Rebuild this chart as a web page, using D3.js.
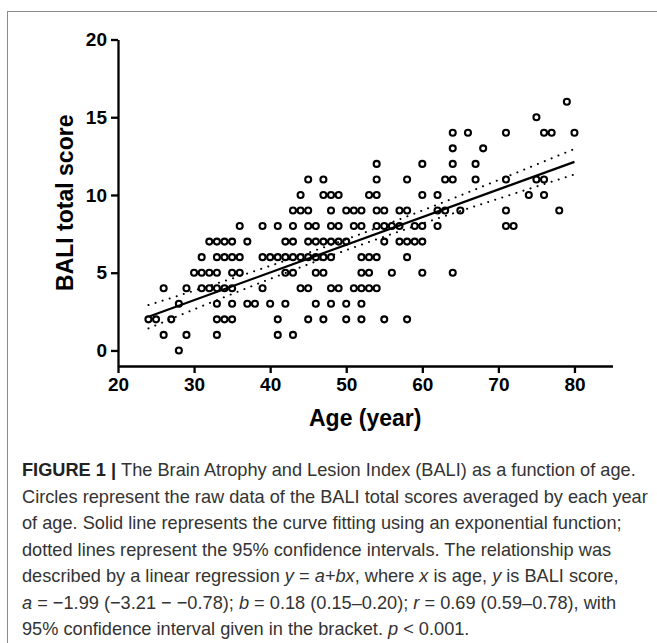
<!DOCTYPE html>
<html>
  <head>
    <meta charset="utf-8" />
    <style>
      body { margin: 0; background: #fff; }
      svg { display: block; }
    </style>
  </head>
  <body>

<svg id="graph"></svg>

<script src="https://d3js.org/d3.v7.min.js"></script>
<script>
  const WIDTH = 657;
  const HEIGHT = 643;

  // BALI score rows: [score, ages that have that averaged score]
  const SCORE_ROWS = [
    [0, [28]],
    [1, [26, 29, 33, 41, 43]],
    [2, [24, 25, 27, 33, 34, 35, 41, 45, 47, 50, 52, 55, 58]],
    [3, [28, 33, 35, 37, 38, 40, 42, 46, 48, 50, 52]],
    [4, [26, 29, 31, 32, 33, 34, 35, 39, 44, 45, 48, 49, 51, 52, 53, 54]],
    [5, [30, 31, 32, 33, 35, 36, 42, 43, 46, 47, 52, 53, 56, 60, 64]],
    [6, [31, 33, 34, 35, 36, 39, 40, 41, 42, 43, 44, 45, 46, 47, 48, 52, 53, 54, 58]],
    [7, [32, 33, 34, 35, 37, 42, 43, 45, 46, 47, 48, 49, 50, 55, 57, 58, 59, 60]],
    [8, [36, 39, 41, 43, 45, 46, 48, 49, 51, 52, 54, 55, 56, 57, 59, 60, 62, 71, 72]],
    [9, [43, 44, 45, 48, 50, 51, 52, 54, 55, 57, 58, 62, 63, 65, 71, 78]],
    [10, [44, 47, 48, 49, 53, 54, 60, 62, 74, 76]],
    [11, [45, 47, 54, 58, 63, 64, 67, 71, 75, 76]],
    [12, [54, 60, 64, 67]],
    [13, [64, 68]],
    [14, [64, 66, 71, 76, 77, 80]],
    [15, [75]],
    [16, [79]]
  ];

  // fitted line and 95% CI
  const FIT_AGES = [24, 80];
  const FIT_SCORES = [2.17, 12.13];
  const CI_AGES = [24, 30, 40, 50, 60, 70, 80];
  const CI_UPPER = [2.92, 3.84, 5.44, 7.15, 9.0, 10.96, 12.96];
  const CI_LOWER = [1.42, 2.64, 4.6, 6.45, 8.16, 9.76, 11.32];

  const X_TICKS = [20, 30, 40, 50, 60, 70, 80];
  const Y_TICKS = [0, 5, 10, 15, 20];

  const CAPTION = [
    [['FIGURE 1 | ', 'b'], ['The Brain Atrophy and Lesion Index (BALI) as a function of age.', '']],
    [['Circles represent the raw data of the BALI total scores averaged by each year', '']],
    [['of age. Solid line represents the curve fitting using an exponential function;', '']],
    [['dotted lines represent the 95% confidence intervals. The relationship was', '']],
    [['described by a linear regression ', ''], ['y', 'i'], [' = ', ''], ['a+bx', 'i'], [', where ', ''], ['x', 'i'], [' is age, ', ''], ['y', 'i'], [' is BALI score,', '']],
    [['a', 'i'], [' = \u22121.99 (\u22123.21 \u2212 \u22120.78); ', ''], ['b', 'i'], [' = 0.18 (0.15\u20130.20); ', ''], ['r', 'i'], [' = 0.69 (0.59\u20130.78), with', '']],
    [['95% confidence interval given in the bracket. ', ''], ['p', 'i'], [' < 0.001.', '']]
  ];

  const FONT = '"Liberation Sans", Arial, sans-serif';

  const svg = d3.select('#graph')
    .attr('width', WIDTH)
    .attr('height', HEIGHT)
    .style('font-family', FONT);

  // figure frame
  svg.append('rect')
    .attr('x', 7.5).attr('y', 11.5)
    .attr('width', 700).attr('height', 700)
    .attr('fill', 'none')
    .attr('stroke', '#8a8a8a')
    .attr('stroke-width', 1);

  const x = d3.scaleLinear().domain([20, 85]).range([118, 612.5]);
  const y = d3.scaleLinear().domain([-1, 20]).range([366, 39.5]);

  const points = SCORE_ROWS.flatMap(([s, ages]) => ages.map(a => ({ age: a, score: s })));

  // axes
  const xAxis = svg.append('g')
    .attr('transform', `translate(0,${y(-1)})`)
    .call(d3.axisBottom(x).tickValues(X_TICKS).tickSize(7).tickSizeOuter(0).tickPadding(5));
  const yAxis = svg.append('g')
    .attr('transform', `translate(${x(20)},0)`)
    .call(d3.axisLeft(y).tickValues(Y_TICKS).tickSize(7).tickSizeOuter(0).tickPadding(4));

  [xAxis, yAxis].forEach(g => {
    g.select('.domain').attr('stroke', '#000').attr('stroke-width', 2.3);
    g.selectAll('.tick line').attr('stroke', '#000').attr('stroke-width', 2.3);
    g.selectAll('.tick text')
      .attr('fill', '#000')
      .style('font-family', FONT)
      .style('font-size', '19px')
      .style('font-weight', 'bold');
  });

  svg.append('text')
    .attr('x', (x(20) + x(85)) / 2)
    .attr('y', 426)
    .attr('text-anchor', 'middle')
    .style('font-size', '23px')
    .style('font-weight', 'bold')
    .text('Age (year)');

  svg.append('text')
    .attr('transform', `translate(73,${(y(-1) + y(20)) / 2}) rotate(-90)`)
    .attr('text-anchor', 'middle')
    .style('font-size', '23px')
    .style('font-weight', 'bold')
    .text('BALI total score');

  // data circles
  svg.append('g')
    .selectAll('circle')
    .data(points)
    .enter()
    .append('circle')
    .attr('cx', d => x(d.age))
    .attr('cy', d => y(d.score))
    .attr('r', 3)
    .attr('fill', 'none')
    .attr('stroke', '#000')
    .attr('stroke-width', 2.1);

  // regression + CI
  const ciLine = d3.line()
    .x(d => x(d[0]))
    .y(d => y(d[1]))
    .curve(d3.curveMonotoneX);

  [CI_UPPER, CI_LOWER].forEach(vals => {
    svg.append('path')
      .attr('d', ciLine(CI_AGES.map((a, i) => [a, vals[i]])))
      .attr('fill', 'none')
      .attr('stroke', '#000')
      .attr('stroke-width', 2)
      .attr('stroke-linecap', 'round')
      .attr('stroke-dasharray', '0.1,7.3');
  });

  svg.append('path')
    .attr('d', d3.line().x(d => x(d[0])).y(d => y(d[1]))(FIT_AGES.map((a, i) => [a, FIT_SCORES[i]])))
    .attr('fill', 'none')
    .attr('stroke', '#000')
    .attr('stroke-width', 2.2);

  // caption
  const cap = svg.append('text')
    .attr('fill', '#333')
    .style('font-size', '18.2px');

  CAPTION.forEach((line, i) => {
    line.forEach(([str, style], j) => {
      const t = cap.append('tspan').text(str);
      if (j === 0) t.attr('x', 22).attr('y', 476 + i * 26.5);
      if (style === 'b') t.style('font-weight', 'bold').attr('fill', '#222');
      if (style === 'i') t.style('font-style', 'italic');
    });
  });
</script>
  </body>
</html>
